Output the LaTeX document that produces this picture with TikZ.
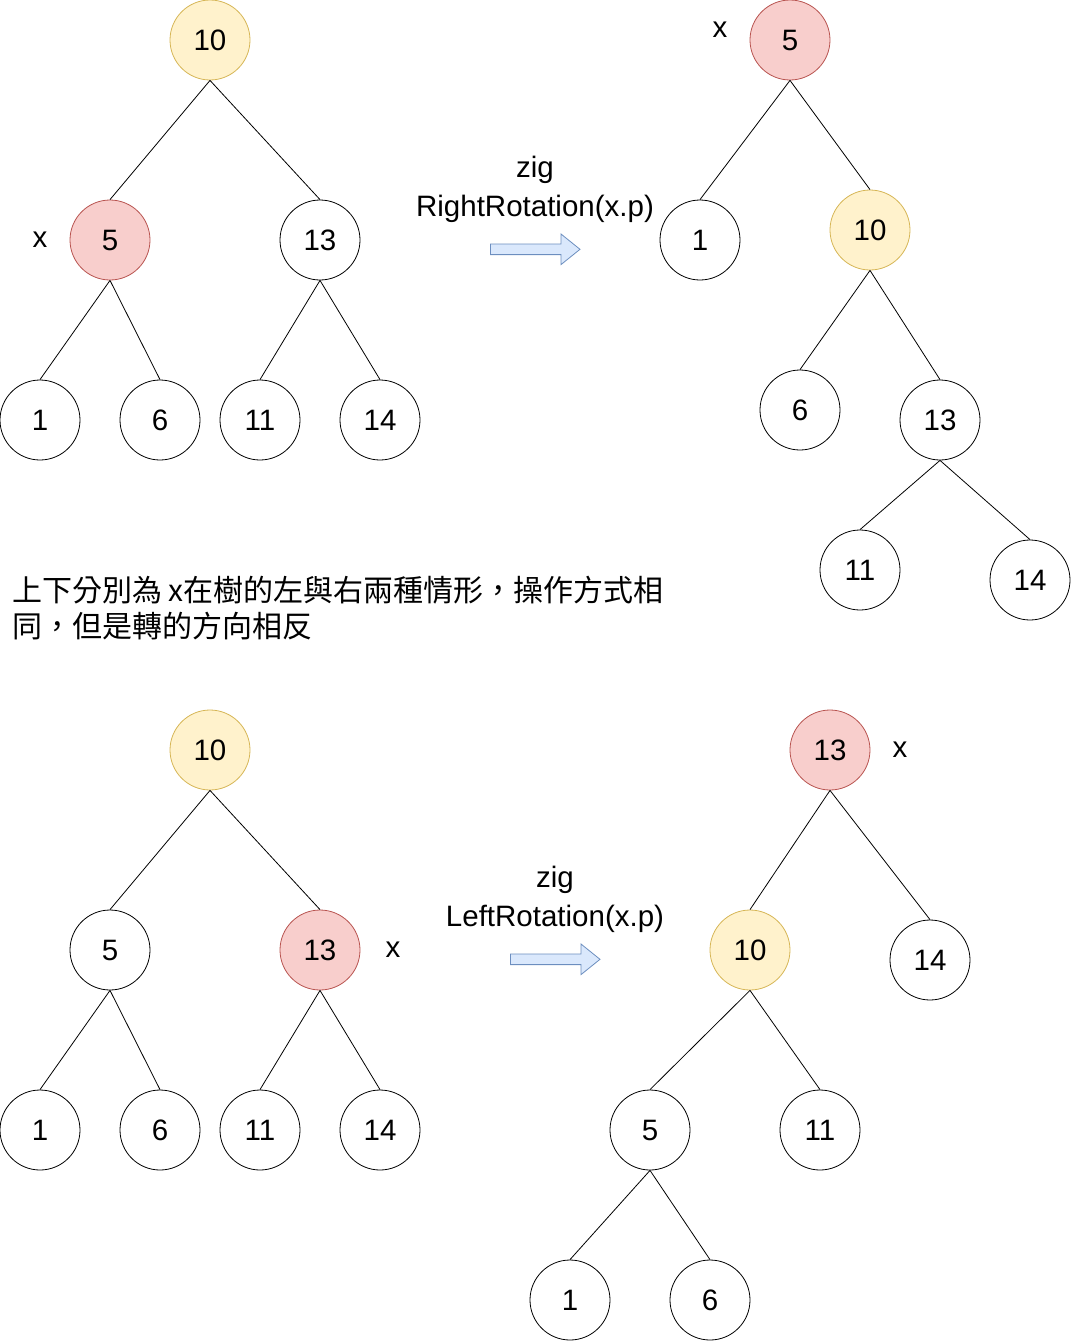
\documentclass[tikz,border=0pt]{standalone}
\usepackage{fontspec}
\setmainfont{Liberation Sans}
\newfontfamily\cjkfont{Noto Sans CJK TC}
\usetikzlibrary{shapes.arrows}
\definecolor{yfill}{HTML}{FFF2CC}
\definecolor{ydraw}{HTML}{D6B656}
\definecolor{rfill}{HTML}{F8CECC}
\definecolor{rdraw}{HTML}{B85450}
\definecolor{bfill}{HTML}{DAE8FC}
\definecolor{bdraw}{HTML}{6C8EBF}
\begin{document}
\begin{tikzpicture}[x=1pt,y=-1pt,
  tn/.style={circle,draw=black,fill=white,line width=0.8pt,minimum size=80pt,inner sep=0pt,font=\fontsize{29.5}{31}\selectfont},
  yel/.style={tn,fill=yfill,draw=ydraw},
  red/.style={tn,fill=rfill,draw=rdraw},
  lbl/.style={font=\fontsize{29.5}{31}\selectfont,inner sep=0pt},
  edge/.style={line width=0.8pt,draw=black},
  barrow/.style={fill=bfill,draw=bdraw,line width=0.8pt}
]
\useasboundingbox (0,0) rectangle (1071,1341);
% ---------- top-left tree ----------
\node[yel] (a10) at (210,40) {10};
\node[red] (a5) at (110,240) {5};
\node[lbl] (ax) at (40,240) {x};
\node[tn] (a13) at (320,240) {13};
\node[tn] (a1) at (40,420) {1};
\node[tn] (a6) at (160,420) {6};
\node[tn] (a11) at (260,420) {11};
\node[tn] (a14) at (380,420) {14};
\draw[edge] (a10.south) -- (a5.north);
\draw[edge] (a10.south) -- (a13.north);
\draw[edge] (a5.south) -- (a1.north);
\draw[edge] (a5.south) -- (a6.north);
\draw[edge] (a13.south) -- (a11.north);
\draw[edge] (a13.south) -- (a14.north);
% ---------- arrow 1 ----------
\node[lbl] (z1) at (535,170) {zig};
\node[lbl] (r1) at (535,209) {RightRotation(x.p)};
\coordinate (p1) at (490.5,249.3);
\draw[barrow] (p1) ++(0,-5.3) -- ++(70.5,0) -- ++(0,-10) -- ++(19,15.3) -- ++(-19,15.3) -- ++(0,-10) -- ++(-70.5,0) -- cycle;
% ---------- top-right tree ----------
\node[red] (b5) at (790,40) {5};
\node[lbl] (bx) at (720,30) {x};
\node[tn] (b1) at (700,240) {1};
\node[yel] (b10) at (870,230) {10};
\node[tn] (b6) at (800,410) {6};
\node[tn] (b13) at (940,420) {13};
\node[tn] (b11) at (860,570) {11};
\node[tn] (b14) at (1030,580) {14};
\draw[edge] (b5.south) -- (b1.north);
\draw[edge] (b5.south) -- (b10.north);
\draw[edge] (b10.south) -- (b6.north);
\draw[edge] (b10.south) -- (b13.north);
\draw[edge] (b13.south) -- (b11.north);
\draw[edge] (b13.south) -- (b14.north);
% ---------- text ----------
\node[anchor=base west,inner sep=0pt,font=\cjkfont\fontsize{30}{36}\selectfont] (t1) at (12,601) {上下分別為 x在樹的左與右兩種情形，操作方式相};
\node[anchor=base west,inner sep=0pt,font=\cjkfont\fontsize{30}{36}\selectfont] (t2) at (12,637) {同，但是轉的方向相反};
% ---------- bottom-left tree ----------
\node[yel] (c10) at (210,750) {10};
\node[tn] (c5) at (110,950) {5};
\node[red] (c13) at (320,950) {13};
\node[lbl] (cx) at (393,950) {x};
\node[tn] (c1) at (40,1130) {1};
\node[tn] (c6) at (160,1130) {6};
\node[tn] (c11) at (260,1130) {11};
\node[tn] (c14) at (380,1130) {14};
\draw[edge] (c10.south) -- (c5.north);
\draw[edge] (c10.south) -- (c13.north);
\draw[edge] (c5.south) -- (c1.north);
\draw[edge] (c5.south) -- (c6.north);
\draw[edge] (c13.south) -- (c11.north);
\draw[edge] (c13.south) -- (c14.north);
% ---------- arrow 2 ----------
\node[lbl] (z2) at (555,880) {zig};
\node[lbl] (r2) at (555,919) {LeftRotation(x.p)};
\coordinate (p2) at (510.5,959.3);
\draw[barrow] (p2) ++(0,-5.3) -- ++(70.5,0) -- ++(0,-10) -- ++(19,15.3) -- ++(-19,15.3) -- ++(0,-10) -- ++(-70.5,0) -- cycle;
% ---------- bottom-right tree ----------
\node[red] (d13) at (830,750) {13};
\node[lbl] (dx) at (900,750) {x};
\node[yel] (d10) at (750,950) {10};
\node[tn] (d14) at (930,960) {14};
\node[tn] (d5) at (650,1130) {5};
\node[tn] (d11) at (820,1130) {11};
\node[tn] (d1) at (570,1300) {1};
\node[tn] (d6) at (710,1300) {6};
\draw[edge] (d13.south) -- (d10.north);
\draw[edge] (d13.south) -- (d14.north);
\draw[edge] (d10.south) -- (d5.north);
\draw[edge] (d10.south) -- (d11.north);
\draw[edge] (d5.south) -- (d1.north);
\draw[edge] (d5.south) -- (d6.north);
\end{tikzpicture}
\end{document}
